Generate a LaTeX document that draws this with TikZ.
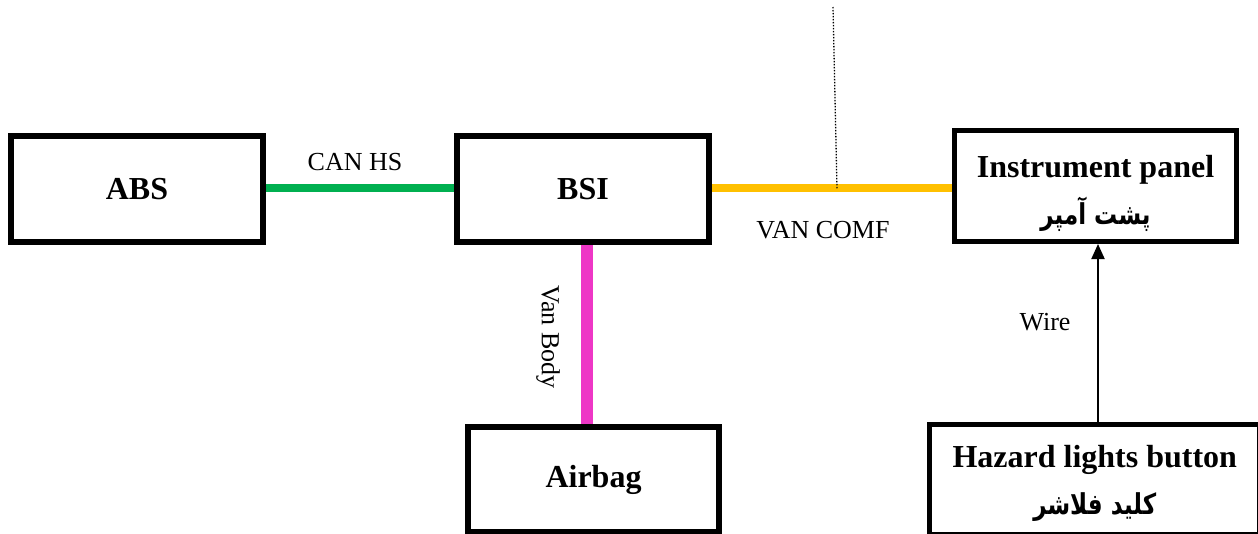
\documentclass[tikz,border=0pt]{standalone}
\usepackage{graphicx}
\usepackage{fontspec}
\setmainfont{Liberation Serif}
\newfontfamily\arabicfont[Script=Arabic]{DejaVu Sans}
\TeXXeTstate=1
\usetikzlibrary{arrows.meta}
\definecolor{busgreen}{RGB}{0,176,80}
\definecolor{busyellow}{RGB}{255,192,0}
\definecolor{buspink}{RGB}{238,54,198}
\newcommand\fatxt[1]{\scalebox{1}[1.25]{\fontsize{23}{28}\selectfont\arabicfont\bfseries\beginR #1\endR}}
\tikzset{
  unit/.style={draw=black, line width=6pt, fill=white, inner sep=0pt,
    align=center, font=\fontsize{32}{48}\selectfont\bfseries},
  boxtext/.style={inner sep=0pt, align=center, font=\fontsize{32}{47}\selectfont\bfseries},
  lbl/.style={font=\fontsize{26}{30}\selectfont, inner sep=0pt},
  busline/.style={line width=8pt},
}
\begin{document}
\begin{tikzpicture}[x=1pt,y=-1pt]
\clip (0,0) rectangle (1258,533);
\fill[white] (0,0) rectangle (1258,533);
% boxes
\node[unit, minimum width=252pt, minimum height=106pt] (abs) at (137,189) {ABS};
\node[unit, minimum width=252pt, minimum height=106pt] (bsi) at (583,189) {BSI};
\node[unit, line width=5pt, minimum width=282pt, minimum height=111pt] (ip) at (1095.5,186) {};
\node[boxtext] (iptxt) at ([yshift=-7pt]ip.center) {Instrument panel\\\fatxt{پشت آمپر}};
\node[unit, minimum width=251pt, minimum height=105pt] (airbag) at (593.5,479.5) {Airbag};
\node[unit, line width=5pt, minimum width=330pt, minimum height=110pt] (haz) at (1094.75,479.5) {};
\node[boxtext] (haztxt) at ([xshift=0pt,yshift=-4pt]haz.center) {Hazard lights button\\\fatxt{کلید فلاشر}};
% buses
\draw[busline, busgreen] ([yshift=1pt]abs.east) -- ([yshift=1pt]bsi.west);
\draw[busline, busyellow] ([yshift=1pt]bsi.east) -- ([yshift=1pt]bsi.east -| ip.west) coordinate (ymid);
\draw[line width=12pt, buspink] ([xshift=4pt]bsi.south) -- ([xshift=4pt]bsi.south |- airbag.north);
% dotted line
\coordinate (dtop) at (833,7);
\coordinate (dbot) at (837,189);
\draw[line width=1.3pt, dash pattern=on 1.3pt off 1.7pt] (dtop) -- (dbot);
% wire arrow
\draw[line width=2pt, -{Triangle[length=15pt,width=13pt]}] ([xshift=2.5pt]ip.south |- haz.north) -- ([xshift=2.5pt]ip.south);
% labels
\node[lbl] (canhs) at (355,162) {CAN HS};
\node[lbl] (vancomf) at (823,230) {VAN COMF};
\node[lbl] (wire) at (1045,322) {Wire};
\node[lbl, rotate=-90] (vanbody) at (548,337) {Van Body};
\end{tikzpicture}
\end{document}
